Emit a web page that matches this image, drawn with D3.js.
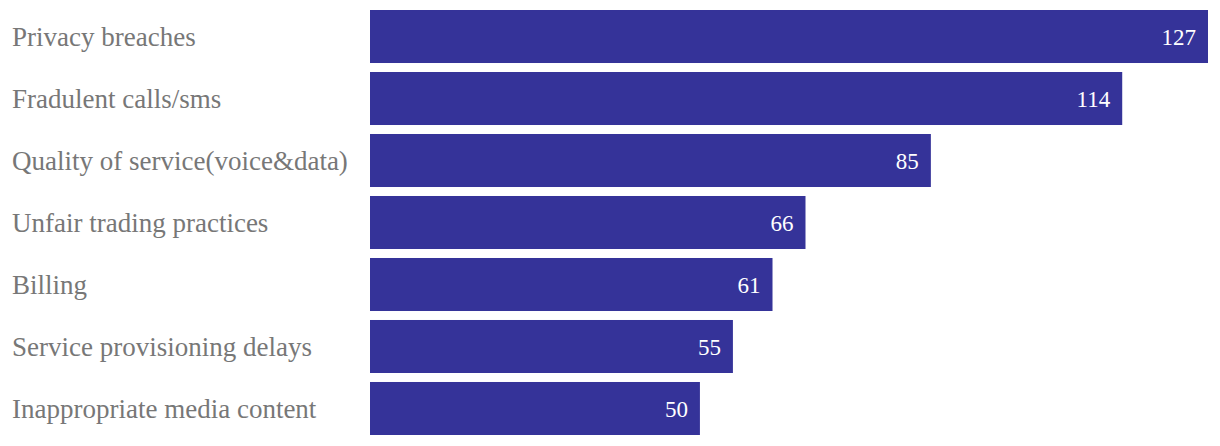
<!DOCTYPE html>
<html><head><meta charset="utf-8">
<script src="https://cdn.jsdelivr.net/npm/d3@7"></script>
<style>body{margin:0;background:#fff}svg{display:block}</style>
</head><body><svg id="c" width="1220" height="446"></svg>
<script>
const categories = ["Privacy breaches","Fradulent calls/sms","Quality of service(voice&data)","Unfair trading practices","Billing","Service provisioning delays","Inappropriate media content"];
const values = [127,114,85,66,61,55,50];

const svg = d3.select("#c");
const x = d3.scaleLinear().domain([0,127]).range([370,1208]);
const y = d3.scaleBand().domain(categories).range([10,435]).paddingInner(0.145).paddingOuter(0);

svg.selectAll("rect").data(values).join("rect")
  .attr("x", x(0)).attr("y",(d,i)=>y(categories[i]))
  .attr("width", d=>x(d)-x(0)).attr("height", y.bandwidth())
  .attr("fill","#353399");

svg.selectAll("text.cat").data(categories).join("text").attr("class","cat")
  .attr("x",12).attr("y",d=>y(d)+y.bandwidth()/2).attr("dy","0.35em")
  .attr("fill","#777").style("font-family","'Liberation Serif','DejaVu Serif',serif").style("font-size","27px")
  .text(d=>d);

svg.selectAll("text.val").data(values).join("text").attr("class","val")
  .attr("x",d=>x(d)-12).attr("y",(d,i)=>y(categories[i])+y.bandwidth()/2).attr("dy","0.35em")
  .attr("text-anchor","end").attr("fill","#fff")
  .style("font-family","'Liberation Serif','DejaVu Serif',serif").style("font-size","23px")
  .text(d=>d);
</script></body></html>
